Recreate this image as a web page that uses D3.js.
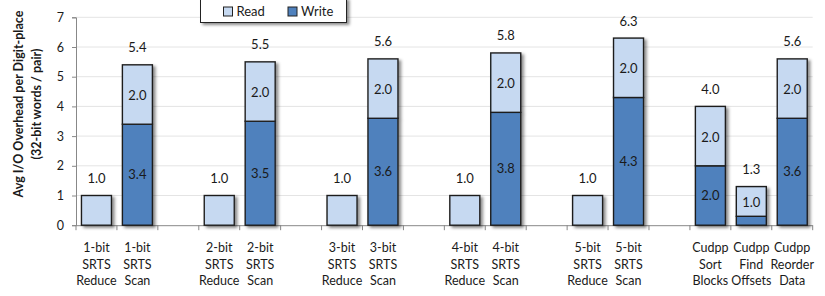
<!DOCTYPE html>
<html><head><meta charset="utf-8">
<script src="https://cdn.jsdelivr.net/npm/d3@7/dist/d3.min.js"></script>
<style>
body{margin:0;background:#fff;}
text{font-family:Lato, "Open Sans", sans-serif;fill:#1a1a1a;}
</style></head>
<body><svg id="c" width="825" height="296"></svg>
<script>
// ---- data ----
const categories = [
  ["1-bit","SRTS","Reduce"],["1-bit","SRTS","Scan"],[],
  ["2-bit","SRTS","Reduce"],["2-bit","SRTS","Scan"],[],
  ["3-bit","SRTS","Reduce"],["3-bit","SRTS","Scan"],[],
  ["4-bit","SRTS","Reduce"],["4-bit","SRTS","Scan"],[],
  ["5-bit","SRTS","Reduce"],["5-bit","SRTS","Scan"],[],
  ["Cudpp","Sort","Blocks"],["Cudpp","Find","Offsets"],["Cudpp","Reorder","Data"]
];
const writeVals = [0,3.4,null, 0,3.5,null, 0,3.6,null, 0,3.8,null, 0,4.3,null, 2.0,0.3,3.6];
const readVals  = [1.0,2.0,null, 1.0,2.0,null, 1.0,2.0,null, 1.0,2.0,null, 1.0,2.0,null, 2.0,1.0,2.0];
const totalLabels = ["1.0","5.4",null,"1.0","5.5",null,"1.0","5.6",null,"1.0","5.8",null,"1.0","6.3",null,"4.0","1.3","5.6"];
const writeLabels = [null,"3.4",null,null,"3.5",null,null,"3.6",null,null,"3.8",null,null,"4.3",null,"2.0",null,"3.6"];
const readLabels  = [null,"2.0",null,null,"2.0",null,null,"2.0",null,null,"2.0",null,null,"2.0",null,"2.0","1.0","2.0"];
const yTicks = [0,1,2,3,4,5,6,7];
const seriesNames = ["Read","Write"];
const colors = {Read:"#c6d9f1", Write:"#4f81bd"};
const yTitle = ["Avg I/O Overhead per Digit-place","(32-bit words / pair)"];

// ---- layout ----
const svg = d3.select("#c");
const L = 76, R = 812.7, T = 17.3, B = 225.2;
const x = d3.scaleBand().domain(d3.range(categories.length)).range([L,R]).paddingInner(0.267).paddingOuter(0.1335);
const y = d3.scaleLinear().domain([0,7]).range([B,T]);

const defs = svg.append("defs");
const f = defs.append("filter").attr("id","sh").attr("x","-20%").attr("y","-20%").attr("width","160%").attr("height","160%");
f.append("feDropShadow").attr("dx",2.5).attr("dy",2).attr("stdDeviation",1.6).attr("flood-color","#000").attr("flood-opacity",0.45);

// gridlines
svg.append("g").selectAll("line").data(yTicks.filter(d=>d>0)).join("line")
  .attr("x1",L).attr("x2",R).attr("y1",d=>y(d)).attr("y2",d=>y(d))
  .attr("stroke","#e4e4e4").attr("stroke-width",1);

// y axis
const yAxis = svg.append("g").attr("transform",`translate(${L},0)`)
  .call(d3.axisLeft(y).tickValues(yTicks).tickSize(4).tickPadding(8).tickFormat(d3.format("d")));
yAxis.select(".domain").attr("stroke","#888");
yAxis.selectAll(".tick line").attr("stroke","#888");
yAxis.selectAll("text").style("font-size","12.5px").attr("fill","#1a1a1a");

// x axis with boundary ticks
const xb = d3.scaleLinear().domain([0,categories.length]).range([L,R]);
svg.append("line").attr("x1",L).attr("x2",R).attr("y1",B+0.5).attr("y2",B+0.5).attr("stroke","#888");
svg.append("g").selectAll("line").data(d3.range(categories.length+1)).join("line")
  .attr("x1",d=>xb(d)).attr("x2",d=>xb(d)).attr("y1",B).attr("y2",B+5).attr("stroke","#888");

// x labels
const xl = svg.append("g");
categories.forEach((lines,i)=>{
  const cx = x(i)+x.bandwidth()/2;
  lines.forEach((s,j)=>{
    xl.append("text").attr("x",cx).attr("y",B+22.5+j*16.5).attr("dy","0.35em").attr("text-anchor","middle")
      .style("font-size","12.5px").text(s);
  });
});

// bars
const bars = svg.append("g");
categories.forEach((c,i)=>{
  if (readVals[i]==null) return;
  const g = bars.append("g").attr("filter","url(#sh)");
  const bx = x(i), bw = x.bandwidth();
  const w = writeVals[i], r = readVals[i];
  if (w>0) g.append("rect").attr("x",bx).attr("width",bw).attr("y",y(w)).attr("height",y(0)-y(w))
      .attr("fill",colors.Write).attr("stroke","#1f1f1f").attr("stroke-width",1.4);
  g.append("rect").attr("x",bx).attr("width",bw).attr("y",y(w+r)).attr("height",y(w)-y(w+r))
      .attr("fill",colors.Read).attr("stroke","#1f1f1f").attr("stroke-width",1.4);
});

// value labels
const lab = svg.append("g").style("font-size","13px");
categories.forEach((c,i)=>{
  if (readVals[i]==null) return;
  const cx = x(i)+x.bandwidth()/2;
  const w = writeVals[i], r = readVals[i];
  if (totalLabels[i]) lab.append("text").attr("x",cx).attr("y",y(w+r)-17).attr("dy","0.35em").attr("text-anchor","middle").text(totalLabels[i]);
  if (readLabels[i]) lab.append("text").attr("x",cx).attr("y",(y(w)+y(w+r))/2+1).attr("dy","0.35em").attr("text-anchor","middle").text(readLabels[i]);
  if (writeLabels[i]) lab.append("text").attr("x",cx).attr("y",(y(0)+y(w))/2).attr("dy","0.35em").attr("text-anchor","middle").text(writeLabels[i]);
});

// y title
yTitle.forEach((s,j)=>{
  svg.append("text").attr("transform",`translate(${23+j*18},104) rotate(-90)`)
    .attr("text-anchor","middle").style("font-size","12.5px").style("font-weight","bold").text(s);
});

// legend
const lg = svg.append("g");
lg.append("rect").attr("x",200.5).attr("y",-2).attr("width",146).attr("height",24.5)
  .attr("fill","#fff").attr("stroke","#222").attr("stroke-width",1).attr("filter","url(#sh)");
const lx = [223.5, 288];
seriesNames.forEach((s,k)=>{
  lg.append("rect").attr("x",lx[k]).attr("y",7).attr("width",9).attr("height",9)
    .attr("fill",colors[s]).attr("stroke","#222").attr("stroke-width",1);
  lg.append("text").attr("x",lx[k]+13).attr("y",11.5).attr("dy","0.35em").style("font-size","13px").text(s);
});
</script></body></html>
